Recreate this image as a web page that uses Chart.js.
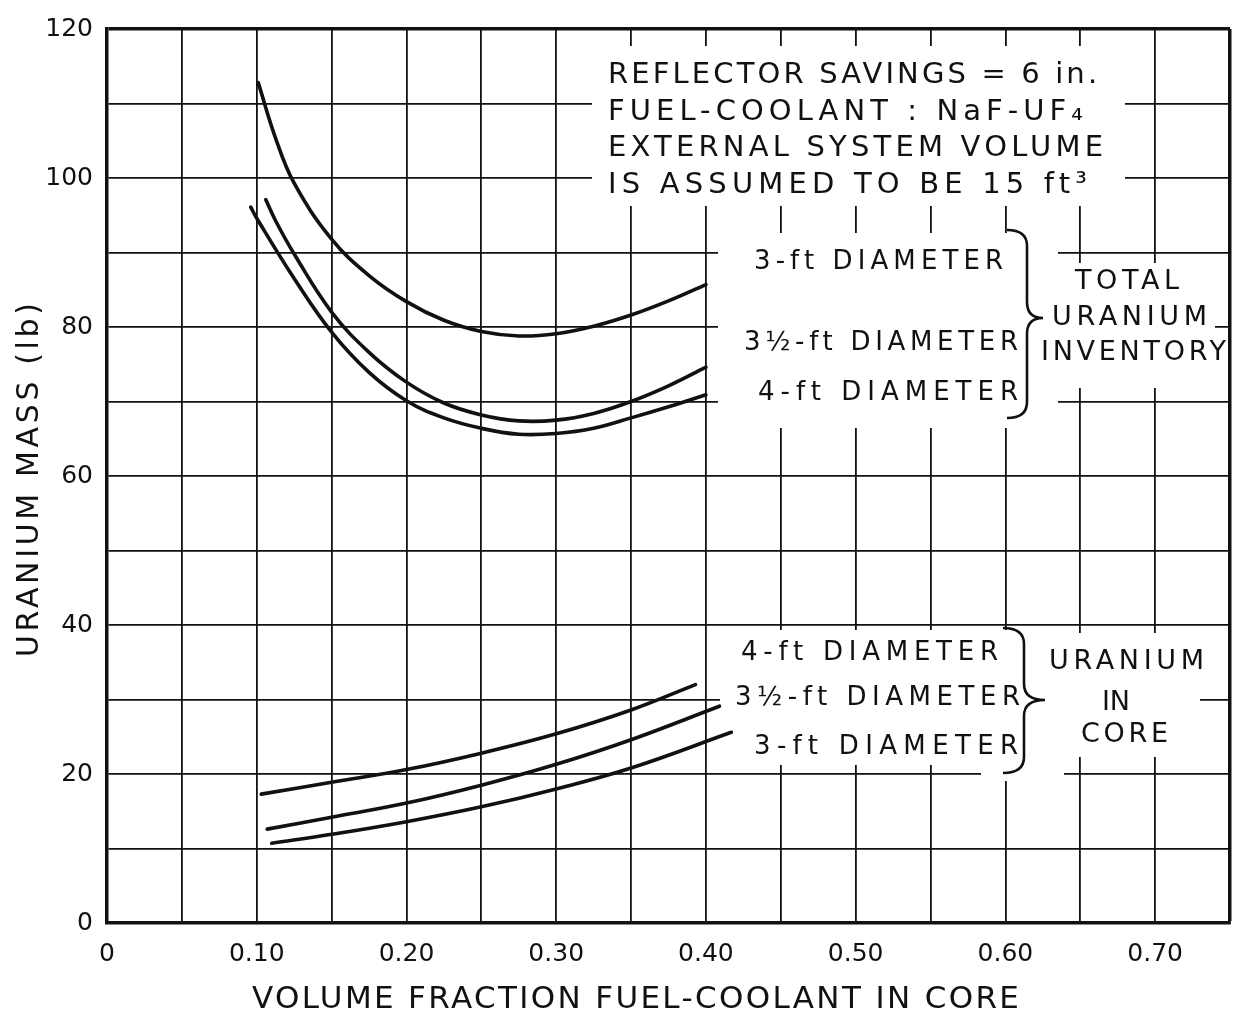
<!DOCTYPE html>
<html>
<head>
<meta charset="utf-8">
<script src="https://cdn.jsdelivr.net/npm/chart.js@4/dist/chart.umd.min.js"></script>
<style>
  html, body { margin: 0; padding: 0; background: #fff; }
</style>
</head>
<body>
<canvas id="myChart" width="1246" height="1016"></canvas>
<script>
// total uranium inventory curves (lb) vs volume fraction
const totalX3 = [0.101, 0.1125, 0.125, 0.15, 0.175, 0.20, 0.225, 0.25, 0.275, 0.30, 0.325, 0.35, 0.375, 0.40];
const totalY3 = [112.8, 105.4, 99.3, 91.8, 86.9, 83.4, 80.9, 79.4, 78.8, 79.1, 80.1, 81.6, 83.5, 85.7];
const totalX35 = [0.106, 0.1125, 0.125, 0.15, 0.175, 0.20, 0.225, 0.25, 0.275, 0.30, 0.325, 0.35, 0.375, 0.40];
const totalY35 = [97.1, 94.3, 89.8, 82.0, 76.6, 72.6, 69.8, 68.2, 67.4, 67.5, 68.4, 70.0, 72.1, 74.6];
const totalX4 = [0.096, 0.10, 0.125, 0.15, 0.175, 0.20, 0.225, 0.25, 0.275, 0.30, 0.325, 0.35, 0.375, 0.40];
const totalY4 = [96.1, 94.6, 86.5, 79.3, 73.9, 70.1, 67.8, 66.4, 65.6, 65.7, 66.4, 67.8, 69.3, 70.9];

// uranium in core curves
const coreX4 = [0.103, 0.15, 0.20, 0.25, 0.30, 0.35, 0.393];
const coreY4 = [17.3, 18.9, 20.6, 22.8, 25.4, 28.6, 32.0];
const coreX35 = [0.107, 0.15, 0.20, 0.25, 0.30, 0.35, 0.409];
const coreY35 = [12.6, 14.2, 16.1, 18.5, 21.3, 24.6, 29.1];
const coreX3 = [0.110, 0.15, 0.20, 0.25, 0.30, 0.35, 0.417];
const coreY3 = [10.7, 11.9, 13.6, 15.6, 18.0, 20.8, 25.6];

const xMin = 0, xMax = 0.75, xStep = 0.05;
const yMin = 0, yMax = 120, yStep = 10;

const xTitle = "VOLUME FRACTION FUEL-COOLANT IN CORE";
const yTitle = "URANIUM MASS (lb)";
const noteLines = ["REFLECTOR SAVINGS = 6 in.", "FUEL-COOLANT : NaF-UF\u2084", "EXTERNAL SYSTEM VOLUME", "IS ASSUMED TO BE 15 ft\u00B3"];
const totalLabels = ["3-ft DIAMETER", "3\u00BD-ft DIAMETER", "4-ft DIAMETER"];
const totalGroup = ["TOTAL", "URANIUM", "INVENTORY"];
const coreLabels = ["4-ft DIAMETER", "3\u00BD-ft DIAMETER", "3-ft DIAMETER"];
const coreGroup = ["URANIUM", "IN", "CORE"];

const FONT = '"DejaVu Sans", "Liberation Sans", sans-serif';
const INK = "#111";

const pts = (xs, ys) => xs.map((x, i) => ({ x: x, y: ys[i] }));
const curve = (label, xs, ys) => ({
  label: label,
  data: pts(xs, ys),
  borderColor: INK,
  borderWidth: 3.6,
  pointRadius: 0,
  fill: false,
  tension: 0.4,
  borderCapStyle: "round",
});

const datasets = [
  curve("Total 3-ft", totalX3, totalY3),
  curve("Total 3.5-ft", totalX35, totalY35),
  curve("Total 4-ft", totalX4, totalY4),
  curve("Core 4-ft", coreX4, coreY4),
  curve("Core 3.5-ft", coreX35, coreY35),
  curve("Core 3-ft", coreX3, coreY3),
];

// text stretched to a given width, like the hand lettering
function spaced(ctx, str, x, y, w, size) {
  ctx.font = `${size}px ${FONT}`;
  ctx.textAlign = "left";
  ctx.textBaseline = "middle";
  if ("letterSpacing" in ctx) {
    ctx.letterSpacing = "0px";
    const m = ctx.measureText(str).width;
    const n = Array.from(str).length;
    const gap = n > 1 ? (w - m) / (n - 1) : 0;
    ctx.letterSpacing = gap.toFixed(2) + "px";
  }
  ctx.fillText(str, x, y);
  if ("letterSpacing" in ctx) ctx.letterSpacing = "0px";
}

function brace(ctx, x0, xb, xt, top, mid, bottom) {
  const r = 16;
  ctx.beginPath();
  ctx.moveTo(x0, top);
  ctx.quadraticCurveTo(xb, top, xb, top + r);
  ctx.lineTo(xb, mid - r);
  ctx.quadraticCurveTo(xb, mid, xt, mid);
  ctx.quadraticCurveTo(xb, mid, xb, mid + r);
  ctx.lineTo(xb, bottom - r);
  ctx.quadraticCurveTo(xb, bottom, x0, bottom);
  ctx.stroke();
}

const notes = {
  id: "notes",
  beforeDatasetsDraw(chart) {
    // white patches where the lettering sits over the grid
    const ctx = chart.ctx;
    ctx.save();
    ctx.fillStyle = "#fff";
    ctx.fillRect(592, 46, 533, 160);
    ctx.fillRect(718, 233, 340, 195);
    ctx.fillRect(1058, 263, 157, 125);
    ctx.fillRect(720, 630, 325, 135);
    ctx.fillRect(981, 765, 83, 16);
    ctx.fillRect(1045, 633, 155, 124);
    ctx.restore();
  },
  afterDraw(chart) {
    const ctx = chart.ctx;
    ctx.save();
    ctx.fillStyle = INK;
    ctx.strokeStyle = INK;
    ctx.lineWidth = 2.6;

    spaced(ctx, noteLines[0], 608, 75, 489, 29);
    spaced(ctx, noteLines[1], 608, 112, 475, 29);
    spaced(ctx, noteLines[2], 608, 148, 495, 29);
    spaced(ctx, noteLines[3], 608, 185, 479, 29);

    spaced(ctx, totalLabels[0], 754, 262, 249, 26);
    spaced(ctx, totalLabels[1], 744, 343, 274, 26);
    spaced(ctx, totalLabels[2], 758, 393, 260, 26);
    brace(ctx, 1007, 1027, 1043, 230, 318, 418);
    spaced(ctx, totalGroup[0], 1075, 282, 104, 27);
    spaced(ctx, totalGroup[1], 1052, 318, 155, 27);
    spaced(ctx, totalGroup[2], 1041, 353, 185, 27);

    spaced(ctx, coreLabels[0], 741, 653, 257, 26);
    spaced(ctx, coreLabels[1], 735, 698, 285, 26);
    spaced(ctx, coreLabels[2], 754, 747, 264, 26);
    brace(ctx, 1003, 1024, 1045, 628, 700, 773);
    spaced(ctx, coreGroup[0], 1049, 662, 155, 27);
    spaced(ctx, coreGroup[1], 1102, 703, 28, 27);
    spaced(ctx, coreGroup[2], 1081, 735, 87, 27);

    // axis titles
    spaced(ctx, xTitle, 252, 1000, 767, 31);
    ctx.translate(30, 657);
    ctx.rotate(-Math.PI / 2);
    spaced(ctx, yTitle, 0, 0, 354, 30);
    ctx.restore();
  },
};

const edgeWidth = (max) => (c) => (c.tick && Math.abs(c.tick.value - max) < 1e-6 ? 3.5 : 1.8);

const config = {
  type: "line",
  data: { datasets: datasets },
  options: {
    responsive: false,
    animation: false,
    layout: { padding: { top: 16, right: 3, left: 0, bottom: 0 } },
    plugins: { legend: { display: false }, tooltip: { enabled: false } },
    scales: {
      x: {
        type: "linear",
        min: xMin,
        max: xMax,
        afterFit: (s) => { s.height = 93; },
        grid: { color: INK, lineWidth: edgeWidth(xMax), drawTicks: false },
        border: { color: INK, width: 3.5 },
        ticks: {
          stepSize: xStep,
          autoSkip: false,
          maxRotation: 0,
          padding: 16,
          color: INK,
          font: { family: FONT, size: 25 },
          callback: (v) => {
            const h = Math.round(v * 100);
            if (h % 10 !== 0) return "";
            return h === 0 ? "0" : (h / 100).toFixed(2);
          },
        },
      },
      y: {
        min: yMin,
        max: yMax,
        afterFit: (s) => { s.width = 107; },
        grid: { color: INK, lineWidth: edgeWidth(yMax), drawTicks: false },
        border: { color: INK, width: 3.5 },
        ticks: {
          stepSize: yStep,
          padding: 14,
          color: INK,
          font: { family: FONT, size: 25 },
          callback: (v) => (v % 20 === 0 ? String(v) : ""),
        },
      },
    },
  },
  plugins: [notes],
};

const myChart = new Chart(document.getElementById("myChart"), config);
</script>
</body>
</html>
